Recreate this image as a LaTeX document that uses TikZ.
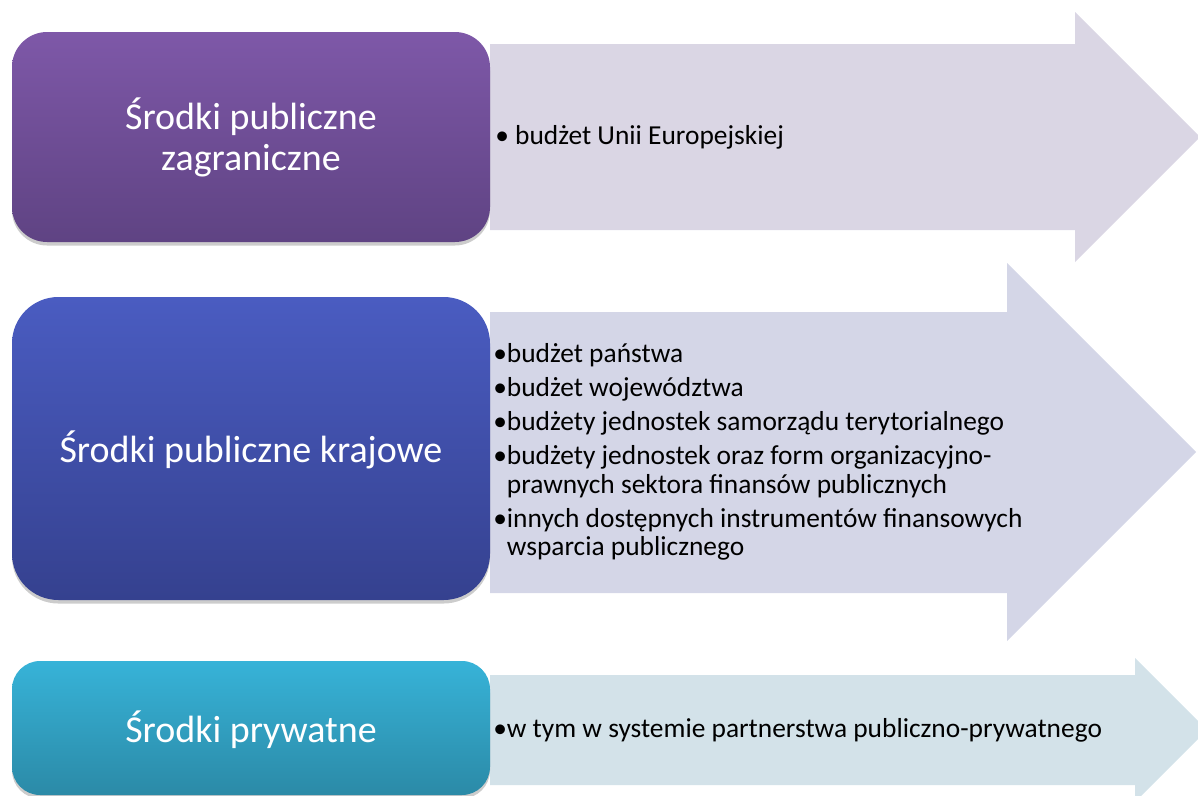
\documentclass[tikz,border=0pt]{standalone}
\usepackage{fontspec}
\setmainfont{Carlito}
\usetikzlibrary{shadows}
\definecolor{fioletA}{HTML}{7E58A8}
\definecolor{fioletB}{HTML}{5F4383}
\definecolor{niebA}{HTML}{4A5CC1}
\definecolor{niebB}{HTML}{35418F}
\definecolor{turkA}{HTML}{37B3D8}
\definecolor{turkB}{HTML}{2B8AA7}
\definecolor{strzalkaA}{HTML}{DAD6E4}
\definecolor{strzalkaB}{HTML}{D4D6E7}
\definecolor{strzalkaC}{HTML}{D3E2E9}

\begin{document}
\begin{tikzpicture}[x=0.025cm, y=-0.025cm,
  skrzynka/.style={drop shadow={shadow xshift=0pt, shadow yshift=-2.5pt, opacity=0.2, fill=black}},
  tytul/.style={text=white, align=center, inner sep=0pt, font=\fontsize{27}{29.2}\selectfont},
  opis/.style={text=black, align=left, anchor=west, inner sep=0pt, font=\fontsize{19.5}{20.3}\selectfont}]

  % Ramka obrazu
  \useasboundingbox (0,0) rectangle (1198,796);
  \clip (0,0) rectangle (1198,796);

  % Strzalki
  \fill[strzalkaA] (490,44) -- (1075,44) -- (1075,12) -- (1200,137) -- (1075,262) -- (1075,230) -- (490,230) -- cycle;
  \fill[strzalkaB] (490,312) -- (1007,312) -- (1007,263) -- (1196,452) -- (1007,641) -- (1007,593) -- (490,593) -- cycle;
  \fill[strzalkaC] (490,675) -- (1135,675) -- (1135,658) -- (1207,730) -- (1135,802) -- (1135,785) -- (490,785) -- cycle;

  % Skrzynki
  \path[skrzynka, top color=fioletA, bottom color=fioletB, rounded corners=25pt] (12,32) rectangle (490,242);
  \path[skrzynka, top color=niebA, bottom color=niebB, rounded corners=33pt] (12,297) rectangle (490,600);
  \path[skrzynka, top color=turkA, bottom color=turkB, rounded corners=20pt] (12,661) rectangle (490,795);

  % Napisy w skrzynkach
  \node[tytul] (zagr) at (251,137) {Środki publiczne\\zagraniczne};
  \node[tytul] (kraj) at (251,450) {Środki publiczne krajowe};
  \node[tytul] (pryw) at (251,730) {Środki prywatne};

  % Napisy na strzalkach
  \node[opis] (ue) at (495,137) {• budżet Unii Europejskiej};
  \node[opis] (budzety) at (493,452) {•budżet państwa\\[3.9pt]
    •budżet województwa\\[3.9pt]
    •budżety jednostek samorządu terytorialnego\\[3.9pt]
    •budżety jednostek oraz form organizacyjno-\\
    \hphantom{•}prawnych sektora finansów publicznych\\[3.9pt]
    •innych dostępnych instrumentów finansowych\\
    \hphantom{•}wsparcia publicznego};
  \node[opis] (ppp) at (493,730) {•w tym w systemie partnerstwa publiczno-prywatnego};

\end{tikzpicture}
\end{document}
